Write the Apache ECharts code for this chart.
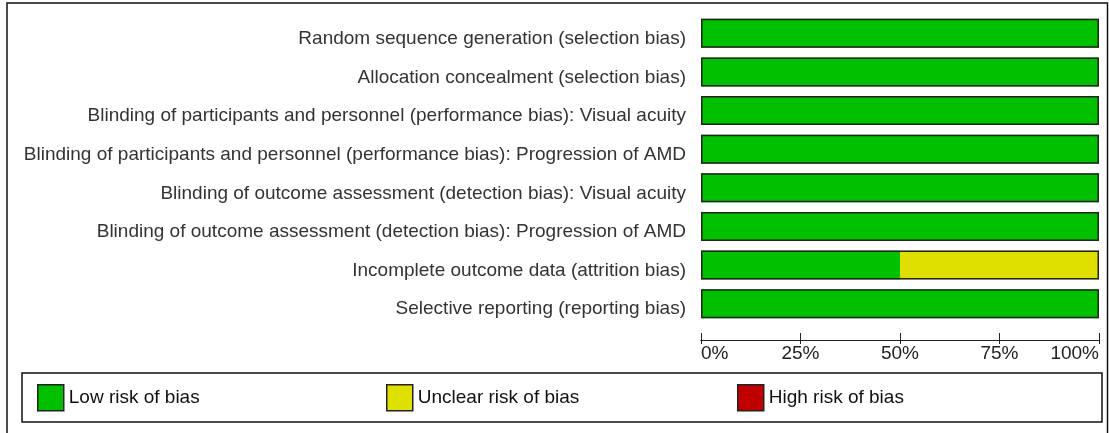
<!DOCTYPE html>
<html>
<head>
<meta charset="utf-8">
<script src="https://cdn.jsdelivr.net/npm/echarts@6/dist/echarts.min.js"></script>
<style>
  html, body { margin: 0; padding: 0; background: #fff; }
  #chart { width: 1109px; height: 433px; }
</style>
</head>
<body>
<div id="chart"></div>
<script>
// risk of bias domains, top to bottom
const domains = [
  "Random sequence generation (selection bias)",
  "Allocation concealment (selection bias)",
  "Blinding of participants and personnel (performance bias): Visual acuity",
  "Blinding of participants and personnel (performance bias): Progression of AMD",
  "Blinding of outcome assessment (detection bias): Visual acuity",
  "Blinding of outcome assessment (detection bias): Progression of AMD",
  "Incomplete outcome data (attrition bias)",
  "Selective reporting (reporting bias)"
];
const lowRisk = [100, 100, 100, 100, 100, 100, 50, 100];
const unclearRisk = [0, 0, 0, 0, 0, 0, 50, 0];
const highRisk = [0, 0, 0, 0, 0, 0, 0, 0];
const tickLabels = ["0%", "25%", "50%", "75%", "100%"];

const myChart = echarts.init(document.getElementById("chart"));

// zero parts are left out so no empty slivers are drawn
const nz = (arr) => arr.map((v) => (v === 0 ? null : v));
// whole bar, used only for the dark outline around each row
const totals = lowRisk.map((v, i) => v + unclearRisk[i] + highRisk[i]);

const mkSeries = (name, data, color) => ({
  name: name,
  type: "bar",
  stack: "risk",
  data: nz(data),
  barWidth: 29,
  barGap: "-100%",
  itemStyle: { color: color, borderWidth: 0 },
});

const axisBase = {
  type: "value",
  min: 0,
  max: 100,
  interval: 25,
  position: "bottom",
  offset: 17,
  splitLine: { show: false },
  axisLine: { show: true, lineStyle: { color: "#222", width: 1 } },
};

myChart.setOption({
  animation: false,
  textStyle: { fontFamily: "Liberation Sans" },
  grid: { left: 701, right: 10, top: 14, bottom: 433 - 323, containLabel: false },
  xAxis: [
    Object.assign({}, axisBase, {
      axisTick: { show: true, inside: false, length: 4, lineStyle: { color: "#222" } },
      axisLabel: {
        show: true,
        margin: 4,
        color: "#222",
        fontSize: 19,
        alignMinLabel: "left",
        alignMaxLabel: "right",
        formatter: (v) => tickLabels[v / 25],
      },
    }),
    Object.assign({}, axisBase, {
      axisTick: { show: true, inside: true, length: 7, lineStyle: { color: "#222" } },
      axisLabel: { show: false },
    }),
  ],
  yAxis: {
    type: "category",
    data: domains,
    inverse: true,
    axisLine: { show: false },
    axisTick: { show: false },
    axisLabel: {
      margin: 15,
      color: "#333",
      fontSize: 19,
      // labels sit a little below the bar centre in the original
      formatter: (v) => "{t|" + v + "}",
      rich: { t: { fontSize: 19, color: "#333", padding: [11, 0, 0, 0] } },
    },
  },
  legend: [
    { data: ["Low risk of bias"], left: 37, top: 384 },
    { data: ["Unclear risk of bias"], left: 386, top: 384 },
    { data: ["High risk of bias"], left: 737, top: 384 },
  ].map((l) =>
    Object.assign(l, {
      itemWidth: 26,
      itemHeight: 26,
      icon: "rect",
      padding: 0,
      selectedMode: false,
      itemStyle: { borderColor: "#222", borderWidth: 1.5 },
      textStyle: { color: "#111", fontSize: 19 },
    })
  ),
  graphic: [
    {
      type: "rect",
      shape: { x: 7, y: 3, width: 1100.5, height: 450 },
      style: { fill: "none", stroke: "#111", lineWidth: 1.5 },
      silent: true,
    },
    {
      type: "rect",
      shape: { x: 22, y: 373, width: 1080, height: 49 },
      style: { fill: "none", stroke: "#111", lineWidth: 1.5 },
      silent: true,
    },
  ],
  series: [
    mkSeries("Low risk of bias", lowRisk, "#00C000"),
    mkSeries("Unclear risk of bias", unclearRisk, "#E0E000"),
    mkSeries("High risk of bias", highRisk, "#C00000"),
    {
      name: "outline",
      type: "bar",
      data: totals,
      barWidth: 29,
      barGap: "-100%",
      z: 5,
      silent: true,
      itemStyle: { color: "rgba(0,0,0,0)", borderColor: "#222", borderWidth: 1.5 },
    },
  ],
});
</script>
</body>
</html>
